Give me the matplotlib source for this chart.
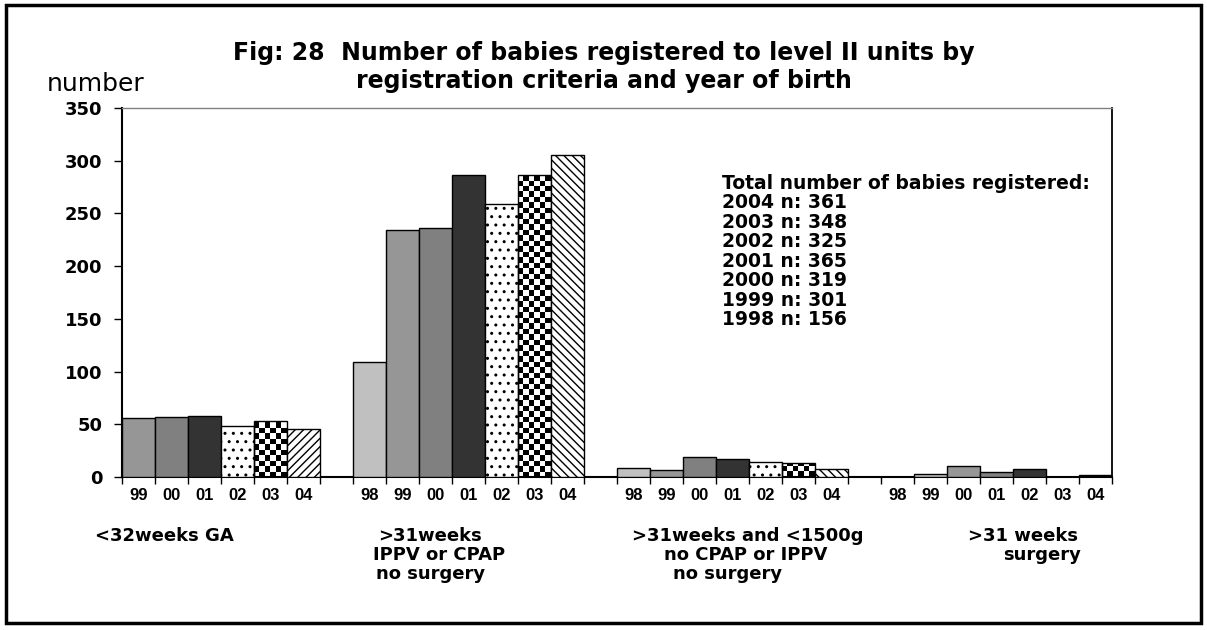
import math
import numpy as np
import matplotlib
matplotlib.use("Agg")
import matplotlib.pyplot as plt
from matplotlib.patches import Rectangle

# ---------------- data ----------------
years_g1 = ['99', '00', '01', '02', '03', '04']
years_all = ['98', '99', '00', '01', '02', '03', '04']
lt32_ga = [56, 57, 58, 48, 53, 46]                      # <32weeks GA (99-04)
gt31_ippv_cpap = [109, 234, 236, 286, 259, 286, 305]    # >31weeks IPPV or CPAP no surgery
gt31_lt1500 = [9, 7, 19, 17, 14, 13, 8]                 # >31weeks and <1500g ...
gt31_surgery = [0, 3, 10, 5, 8, 0, 2]                   # >31 weeks surgery

group_years = [years_g1, years_all, years_all, years_all]
group_values = [lt32_ga, gt31_ippv_cpap, gt31_lt1500, gt31_surgery]
group_label_lines = [
    ['<32weeks GA'],
    ['>31weeks', 'IPPV or CPAP', 'no surgery'],
    ['>31weeks and <1500g', 'no CPAP or IPPV', 'no surgery'],
    ['>31 weeks', 'surgery'],
]
total_years = ['2004', '2003', '2002', '2001', '2000', '1999', '1998']
total_n = [361, 348, 325, 365, 319, 301, 156]

title_lines = ['Fig: 28  Number of babies registered to level II units by',
               'registration criteria and year of birth']

# ---------------- styles / layout ----------------
W, H = 1207, 630
def fx(x): return x / W
def fy(y): return 1 - y / H

group_start = [0, 7, 15, 23]
n_slots = 30
styles = {
    'light': dict(facecolor='#c0c0c0'),
    'mid': dict(facecolor='#969696'),
    'grey': dict(facecolor='#808080'),
    'dark': dict(facecolor='#333333'),
    'dots': dict(facecolor='white', hatch='..'),
    'fwd': dict(facecolor='white', hatch='////'),
    'back': dict(facecolor='white', hatch='\\\\\\\\'),
    'checker': dict(facecolor='none'),
}
group_styles = [
    ['mid', 'grey', 'dark', 'dots', 'checker', 'fwd'],
    ['light', 'mid', 'grey', 'dark', 'dots', 'checker', 'back'],
    ['light', 'mid', 'grey', 'dark', 'dots', 'checker', 'back'],
    ['light', 'light', 'mid', 'grey', 'dark', 'dots', 'checker'],
]
# label line centres (px) per group, line baselines (px)
label_centres = [[164], [430, 439, 431], [748, 746, 728], [1023, 1042]]
label_baselines = [541, 560, 579]

plt.rcParams['font.family'] = ['DejaVu Sans']
plt.rcParams['hatch.linewidth'] = 1.0

fig = plt.figure(figsize=(W / 100, H / 100), dpi=100)
ax = fig.add_axes([fx(122), fy(477), fx(1112) - fx(122), fy(108) - fy(477)])

centres, tick_labels = [], []
for g, (yrs, vals, sty) in enumerate(zip(group_years, group_values, group_styles)):
    for i, (yr, v, s) in enumerate(zip(yrs, vals, sty)):
        xc = group_start[g] + i + 0.5
        centres.append(xc)
        tick_labels.append(yr)
        st = styles[s]
        b = ax.bar(xc, v, width=1.0, edgecolor='black', linewidth=1.0,
                   zorder=3, **st)[0]
        if s == 'checker' and v > 0:
            cell_h = 5.2
            nrows = max(1, math.ceil(v / cell_h))
            ncols = 6
            arr = (np.add.outer(np.arange(nrows), np.arange(ncols)) % 2).astype(float)
            im = ax.imshow(arr, cmap='gray_r', vmin=0, vmax=1, origin='lower',
                           extent=(b.get_x(), b.get_x() + b.get_width(), 0, nrows * cell_h),
                           aspect='auto', interpolation='nearest', zorder=2)
            im.set_clip_path(b)

ax.set_xlim(0, n_slots)
ax.set_ylim(0, 350)
ax.set_xticks(centres)
ax.set_xticklabels(tick_labels, fontsize=12, fontweight='bold', family='Liberation Sans')
ax.set_xticks(np.arange(0, n_slots + 1), minor=True)
ax.tick_params(axis='x', which='major', length=0, pad=8)
ax.tick_params(axis='x', which='minor', length=5, width=1, direction='out', color='black')
ax.set_yticks(np.arange(0, 351, 50))
ax.set_yticklabels([str(v) for v in range(0, 351, 50)], fontsize=13, fontweight='bold')
ax.tick_params(axis='y', length=6, width=1, direction='out', pad=8)

for side in ['left', 'bottom']:
    ax.spines[side].set_linewidth(1.5)
    ax.spines[side].set_color('black')
ax.spines['top'].set_color('#808080')
ax.spines['top'].set_linewidth(1.0)
ax.spines['right'].set_color('black')
ax.spines['right'].set_linewidth(1.3)

# totals box
total_text = 'Total number of babies registered:\n' + '\n'.join(
    f'{y} n: {n}' for y, n in zip(total_years, total_n))
fig.text(fx(722), fy(174), total_text, ha='left', va='top', fontsize=13.5,
         fontweight='bold', linespacing=1.03)

# titles (centred in the chart area)
fig.text(0.5, fy(60), title_lines[0], ha='center', va='baseline',
         fontsize=17, fontweight='bold')
fig.text(0.5, fy(88), title_lines[1], ha='center', va='baseline',
         fontsize=17, fontweight='bold')
fig.text(fx(47), fy(91), 'number', ha='left', va='baseline', fontsize=18)

# category labels
for lines, cents in zip(group_label_lines, label_centres):
    for j, (ln, cx) in enumerate(zip(lines, cents)):
        fig.text(fx(cx), fy(label_baselines[j]), ln, ha='center', va='baseline',
                 fontsize=13, fontweight='bold')

# outer border
fig.patches.append(Rectangle((fx(6), fy(623)), fx(1201) - fx(6), fy(5) - fy(623),
                             transform=fig.transFigure, fill=False,
                             edgecolor='black', linewidth=2.5))

fig.savefig('out.png', dpi=100)
